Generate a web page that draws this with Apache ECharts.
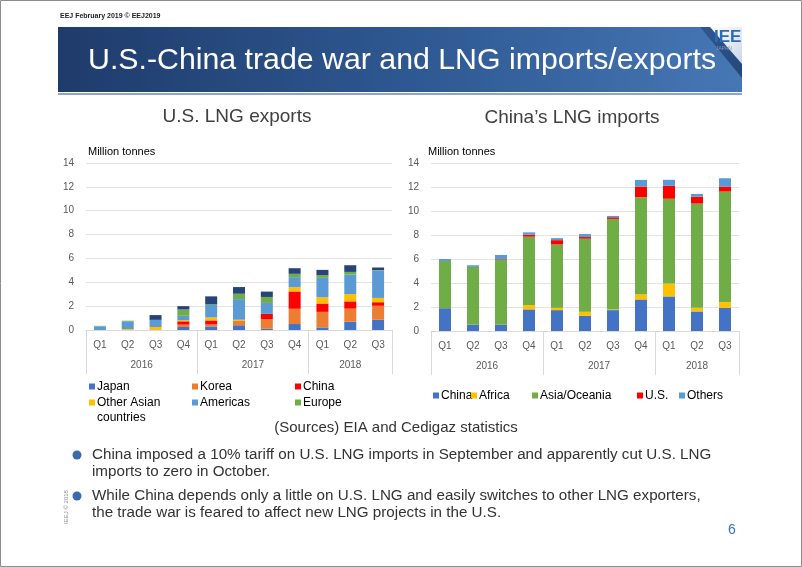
<!DOCTYPE html>
<html><head><meta charset="utf-8">
<script src="https://cdn.jsdelivr.net/npm/echarts@6/dist/echarts.min.js"></script>
<style>html,body{margin:0;padding:0;background:#fff}#c{width:802px;height:567px}</style>
</head><body><div id="c"></div>
<script>
// ---- data ----
const quarters = ['Q1','Q2','Q3','Q4','Q1','Q2','Q3','Q4','Q1','Q2','Q3'];
const years = ['2016','2017','2018'];
const quartersPerYear = [4,4,3];
const yTickLabels = [0,2,4,6,8,10,12,14];
const yAxisUnit = 'Million tonnes';

// U.S. LNG exports by destination (million tonnes)
const usJapan      = [0,    0,    0,    0.25, 0.30, 0.40, 0.10, 0.50, 0.22, 0.70, 0.86];
const usKorea      = [0,    0,    0,    0.20, 0.17, 0.36, 0.80, 1.28, 1.30, 1.09, 1.17];
const usChina      = [0,    0,    0,    0.28, 0.33, 0,    0.45, 1.45, 0.70, 0.61, 0.30];
const usOtherAsia  = [0,    0.08, 0.25, 0.10, 0.25, 0.10, 0,    0.36, 0.53, 0.61, 0.36];
const usAmericas   = [0.30, 0.65, 0.60, 0.36, 1.05, 1.73, 0.92, 0.84, 1.62, 1.64, 2.28];
const usEurope     = [0.05, 0.05, 0,    0.53, 0.05, 0.45, 0.50, 0.28, 0.22, 0.22, 0.05];
const usOthers     = [0,    0,    0.40, 0.28, 0.67, 0.56, 0.45, 0.47, 0.45, 0.56, 0.22];

// China's LNG imports by origin (million tonnes)
const cnChina       = [1.90, 0.53, 0.53, 1.80, 1.74, 1.27, 1.74, 2.63, 2.88, 1.63, 1.94];
const cnAfrica      = [0,    0,    0,    0.36, 0.19, 0.33, 0.05, 0.44, 1.08, 0.30, 0.47];
const cnAsiaOceania = [3.93, 4.81, 5.40, 5.70, 5.28, 6.09, 7.55, 8.08, 7.06, 8.69, 9.21];
const cnUS          = [0,    0,    0.05, 0.17, 0.36, 0.14, 0.14, 0.89, 1.08, 0.58, 0.42];
const cnOthers      = [0.17, 0.14, 0.36, 0.19, 0.17, 0.25, 0.11, 0.55, 0.50, 0.22, 0.69];

const leftSeriesDef = [
  ['Japan', usJapan, '#4472C4'],
  ['Korea', usKorea, '#ED7D31'],
  ['China', usChina, '#FF0000'],
  ['Other Asian countries', usOtherAsia, '#FFC000'],
  ['Americas', usAmericas, '#5B9BD5'],
  ['Europe', usEurope, '#70AD47'],
  ['Others', usOthers, '#264478']
];
const rightSeriesDef = [
  ['China', cnChina, '#4472C4'],
  ['Africa', cnAfrica, '#FFC000'],
  ['Asia/Oceania', cnAsiaOceania, '#70AD47'],
  ['U.S.', cnUS, '#FF0000'],
  ['Others', cnOthers, '#5B9BD5']
];

// ---- helpers ----
const FONT = 'Liberation Sans, Arial, sans-serif';
const groupStarts = []; const yearCenters = [];
(function(){ let acc = 0; quartersPerYear.forEach(n => { groupStarts.push(acc); yearCenters.push(acc + (n - 1) / 2); acc += n; }); })();
const yMin = yTickLabels[0], yMax = yTickLabels[yTickLabels.length - 1], yStep = yTickLabels[1] - yTickLabels[0];

function xAxesFor(gi) {
  return [{
    type: 'category', gridIndex: gi, data: quarters,
    axisLine: { show: true, lineStyle: { color: '#D9D9D9' } },
    axisTick: { show: true, length: 44, interval: (i) => groupStarts.includes(i), lineStyle: { color: '#D9D9D9' } },
    axisLabel: { color: '#595959', fontSize: 10, margin: 10, interval: 0, fontFamily: FONT }
  }, {
    type: 'value', gridIndex: gi, position: 'bottom',
    min: -0.5, max: quarters.length - 0.5, interval: 0.5,
    axisLine: { show: false }, axisTick: { show: false }, splitLine: { show: false },
    axisLabel: { margin: 30, color: '#595959', fontSize: 10, fontFamily: FONT, showMinLabel: true, showMaxLabel: true,
      formatter: v => { const k = yearCenters.findIndex(c => Math.abs(c - v) < 1e-6); return k >= 0 ? years[k] : ''; } }
  }];
}
function yAxisFor(gi) {
  return {
    type: 'value', gridIndex: gi, min: yMin, max: yMax, interval: yStep,
    axisLine: { show: false }, axisTick: { show: false },
    splitLine: { lineStyle: { color: '#E3E3E3' } },
    axisLabel: { color: '#595959', fontSize: 10, margin: 12, fontFamily: FONT }
  };
}

const series = [];
leftSeriesDef.forEach(([name, data, color]) => series.push({
  type: 'bar', name, data, stack: 'us', xAxisIndex: 0, yAxisIndex: 0, barWidth: 12,
  itemStyle: { color }, emphasis: { disabled: true }
}));
rightSeriesDef.forEach(([name, data, color]) => series.push({
  type: 'bar', name, data, stack: 'cn', xAxisIndex: 2, yAxisIndex: 1, barWidth: 12,
  itemStyle: { color }, emphasis: { disabled: true }
}));

function legendItem(name, color, left, top, fmt, icon, ih) {
  return {
    data: [{ name, itemStyle: { color } }], left, top, orient: 'horizontal',
    icon: icon || 'rect', itemWidth: 6, itemHeight: ih || 6, itemGap: 0, selectedMode: false,
    formatter: fmt || (n => n),
    textStyle: { color: '#000', fontSize: 12, fontFamily: FONT, lineHeight: 15, padding: [0, 0, 0, -3] }
  };
}
const topSquare = 'path://M0,0L6,0L6,6L0,6Z M0,20.99L0.01,20.99L0.01,21L0,21Z';
const legends = [
  legendItem('Japan', '#4472C4', 84, 374),
  legendItem('Korea', '#ED7D31', 187, 374),
  legendItem('China', '#FF0000', 290, 374),
  legendItem('Other Asian countries', '#FFC000', 84, 390, n => 'Other Asian\ncountries', topSquare, 21),
  legendItem('Americas', '#5B9BD5', 187, 390),
  legendItem('Europe', '#70AD47', 290, 390),
  legendItem('China', '#4472C4', 428, 383),
  legendItem('Africa', '#FFC000', 466, 383),
  legendItem('Asia/Oceania', '#70AD47', 527, 383),
  legendItem('U.S.', '#FF0000', 632, 383),
  legendItem('Others', '#5B9BD5', 674, 383)
];

const graphic = [
  { type: 'rect', shape: { x: 0.5, y: 0.5, width: 801, height: 566 }, style: { fill: 'none', stroke: '#8C8C8C', lineWidth: 1 }, silent: true },
  { type: 'text', x: 60, y: 16, style: { text: 'EEJ February 2019 © EEJ2019', fill: '#222', font: 'bold 7px ' + FONT, textVerticalAlign: 'middle' } },
  { type: 'rect', shape: { x: 58, y: 27, width: 684, height: 65 },
    style: { fill: new echarts.graphic.LinearGradient(0, 0, 1, 0, [
      { offset: 0, color: '#1F3B6B' }, { offset: 0.55, color: '#2F5A94' }, { offset: 1, color: '#4677B5' }]) } },
  { type: 'polygon', shape: { points: [[700, 27], [742, 27], [742, 78]] },
    style: { fill: new echarts.graphic.LinearGradient(0, 0, 1, 1, [
      { offset: 0, color: '#2E5791' }, { offset: 1, color: '#24477A' }]) } },
  { type: 'polygon', shape: { points: [[710, 27], [742, 27], [742, 64]] },
    style: { fill: new echarts.graphic.LinearGradient(0, 0, 1, 1, [
      { offset: 0, color: '#FFFFFF' }, { offset: 1, color: '#C9D6E8' }]) } },
  { type: 'text', x: 714, y: 29, style: { text: 'IEE', fill: '#2E6BB3', font: 'bold 17px ' + FONT } },
  { type: 'text', x: 716, y: 46, style: { text: 'JAPAN', fill: '#8A9BB0', font: '5px ' + FONT } },
  { type: 'rect', shape: { x: 58, y: 93, width: 684, height: 2 }, style: { fill: '#8EA6C6' } },
  { type: 'text', x: 88, y: 61, style: { text: 'U.S.-China trade war and LNG imports/exports', fill: '#FFFFFF', font: '30.3px ' + FONT, textVerticalAlign: 'middle' } },
  { type: 'text', x: 237, y: 117, style: { text: 'U.S. LNG exports', fill: '#404040', font: '19px ' + FONT, textAlign: 'center', textVerticalAlign: 'middle' } },
  { type: 'text', x: 572, y: 118, style: { text: 'China’s LNG imports', fill: '#404040', font: '19px ' + FONT, textAlign: 'center', textVerticalAlign: 'middle' } },
  { type: 'text', x: 88, y: 152, style: { text: yAxisUnit, fill: '#000', font: '11px ' + FONT, textVerticalAlign: 'middle' } },
  { type: 'text', x: 428, y: 152, style: { text: yAxisUnit, fill: '#000', font: '11px ' + FONT, textVerticalAlign: 'middle' } },
  { type: 'text', x: 396, y: 428, style: { text: '(Sources) EIA and Cedigaz statistics', fill: '#333', font: '15px ' + FONT, textAlign: 'center', textVerticalAlign: 'middle' } },
  { type: 'circle', shape: { cx: 77, cy: 455, r: 4.5 }, style: { fill: '#3A6AAE' } },
  { type: 'circle', shape: { cx: 77, cy: 496, r: 4.5 }, style: { fill: '#3A6AAE' } },
  { type: 'text', x: 92, y: 455, style: { text: 'China imposed a 10% tariff on U.S. LNG imports in September and apparently cut U.S. LNG', fill: '#333', font: '15.2px ' + FONT, textVerticalAlign: 'middle' } },
  { type: 'text', x: 92, y: 472, style: { text: 'imports to zero in October.', fill: '#333', font: '15.2px ' + FONT, textVerticalAlign: 'middle' } },
  { type: 'text', x: 92, y: 496, style: { text: 'While China depends only a little on U.S. LNG and easily switches to other LNG exporters,', fill: '#333', font: '15.2px ' + FONT, textVerticalAlign: 'middle' } },
  { type: 'text', x: 92, y: 513, style: { text: 'the trade war is feared to affect new LNG projects in the U.S.', fill: '#333', font: '15.2px ' + FONT, textVerticalAlign: 'middle' } },
  { type: 'text', x: 66, y: 507, rotation: Math.PI / 2, style: { text: 'IEEJ © 2018', fill: '#8C8C8C', font: '6px ' + FONT, textAlign: 'center', textVerticalAlign: 'middle' } },
  { type: 'text', x: 732, y: 530, style: { text: '6', fill: '#2E75B6', font: '14px ' + FONT, textAlign: 'center', textVerticalAlign: 'middle' } }
];

const option = {
  animation: false,
  textStyle: { fontFamily: FONT },
  grid: [
    { left: 86, right: 410, top: 163, bottom: 237 },
    { left: 431, right: 63, top: 163, bottom: 236 }
  ],
  xAxis: [...xAxesFor(0), ...xAxesFor(1)],
  yAxis: [yAxisFor(0), yAxisFor(1)],
  legend: legends,
  series,
  graphic
};
const chart = echarts.init(document.getElementById('c'), null, { renderer: 'canvas' });
chart.setOption(option);
</script>
</body></html>
